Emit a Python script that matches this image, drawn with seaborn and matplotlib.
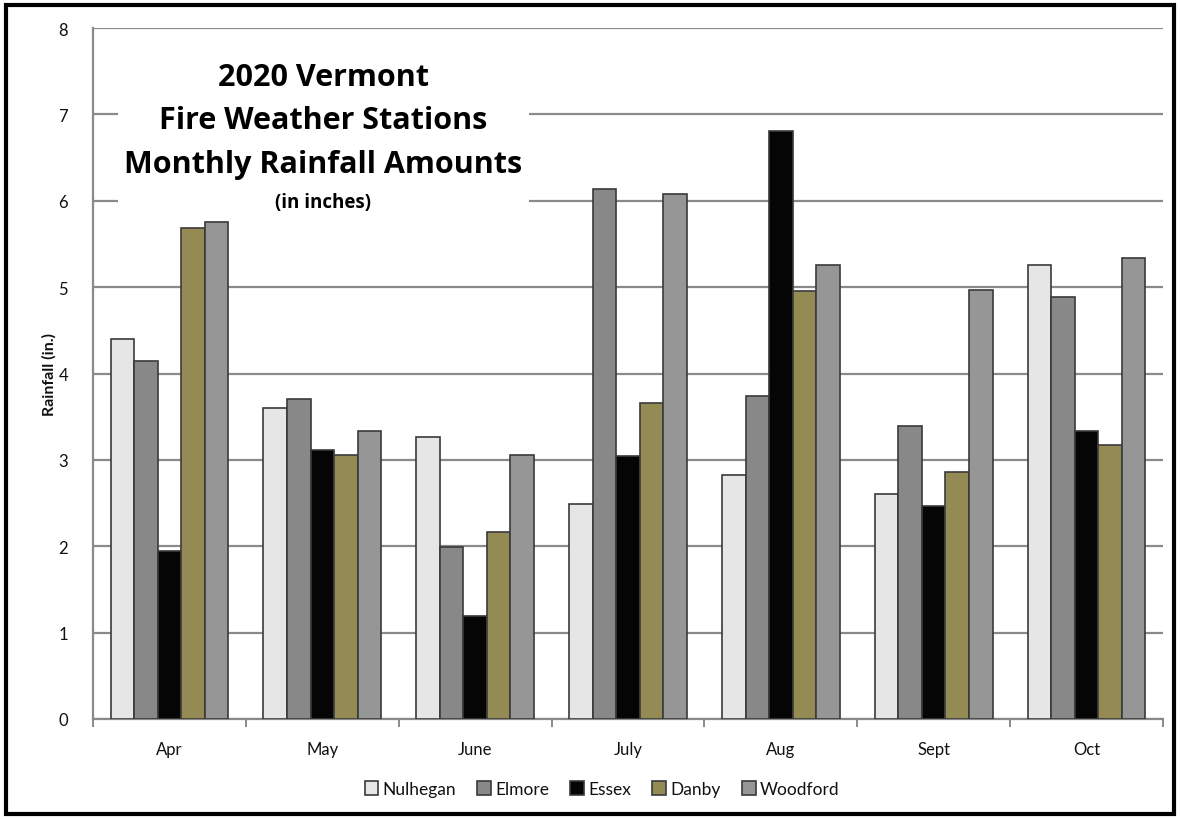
import matplotlib
matplotlib.use("Agg")
import matplotlib.pyplot as plt
from matplotlib.patches import Rectangle
import seaborn as sns
import pandas as pd

# months on the x axis
months = ["Apr", "May", "June", "July", "Aug", "Sept", "Oct"]

# monthly rainfall per station (inches)
nulhegan = [4.40, 3.60, 3.27, 2.49, 2.83, 2.60, 5.26]
elmore = [4.14, 3.70, 1.99, 6.14, 3.74, 3.39, 4.88]
essex = [1.95, 3.12, 1.19, 3.04, 6.81, 2.47, 3.34]
danby = [5.69, 3.06, 2.16, 3.66, 4.95, 2.86, 3.17]
woodford = [5.75, 3.33, 3.06, 6.08, 5.26, 4.97, 5.34]

stations = ["Nulhegan", "Elmore", "Essex", "Danby", "Woodford"]
colors = ["#e6e6e6", "#888888", "#050505", "#948a54", "#969696"]

rows = []
for name, vals in zip(stations, [nulhegan, elmore, essex, danby, woodford]):
    for m, v in zip(months, vals):
        rows.append({"Month": m, "Station": name, "Rainfall": v})
df = pd.DataFrame(rows)

sns.set_theme(style="white")
plt.rcParams["font.family"] = ["Lato", "DejaVu Sans"]
plt.rcParams["text.color"] = "#111111"

fig = plt.figure(figsize=(11.8, 8.2), dpi=100)
ax = fig.add_axes([93 / 1180, 1 - 720 / 820, 1070 / 1180, 691 / 820])

sns.barplot(data=df, x="Month", y="Rainfall", hue="Station", order=months,
            hue_order=stations, palette=colors, width=0.77, gap=0,
            edgecolor="#3a3a3a", linewidth=1.2, saturation=1, ax=ax, zorder=3)

ax.set_ylim(0, 8)
ax.set_xlim(-0.5, len(months) - 0.5)
ax.set_yticks(range(0, 9))
ax.yaxis.grid(True, color="#8a8a8a", linewidth=1.6, zorder=0)
ax.set_axisbelow(True)
for s in ["top", "right"]:
    ax.spines[s].set_visible(False)
for s in ["left", "bottom"]:
    ax.spines[s].set_color("#8a8a8a")
    ax.spines[s].set_linewidth(1.6)

# ticks between the month groups, like the original
ax.set_xticks(range(len(months)))
ax.set_xticklabels(months)
ax.set_xticks([i - 0.5 for i in range(len(months) + 1)], minor=True)
ax.tick_params(axis="x", which="major", length=0, pad=16, labelsize=12, colors="#111111")
ax.tick_params(axis="x", which="minor", length=6, width=1.4, color="#8a8a8a", direction="out")
ax.tick_params(axis="y", length=6, width=1.4, color="#8a8a8a", direction="out",
               labelsize=12, pad=12, labelcolor="#111111")
ax.tick_params(axis="x", bottom=True, which="both")
ax.set_xlabel("")
ax.set_ylabel("Rainfall (in.)", fontsize=11.5, fontweight="bold", labelpad=1,
              color="#111111")

ax.legend(loc="center", bbox_to_anchor=(602 / 1180, 1 - 790 / 820),
          bbox_transform=fig.transFigure, ncol=5, frameon=False,
          handlelength=0.8, handleheight=0.8, handletextpad=0.25,
          columnspacing=1.2, fontsize=12.5)

# white box behind the title that hides the grid lines
fig.patches.append(Rectangle((118 / 1180, 1 - 218 / 820), 411 / 1180, 180 / 820,
                             transform=fig.transFigure, facecolor="white",
                             edgecolor="none", zorder=2))
cx = 323 / 1180
title_font = ["Open Sans", "DejaVu Sans"]
fig.text(cx, 1 - 78 / 820, "2020 Vermont", ha="center", va="center",
         fontsize=22, fontweight="bold", color="black", family=title_font, zorder=3)
fig.text(cx, 1 - 121 / 820, "Fire Weather Stations", ha="center", va="center",
         fontsize=22, fontweight="bold", color="black", family=title_font, zorder=3)
fig.text(cx, 1 - 165 / 820, "Monthly Rainfall Amounts", ha="center", va="center",
         fontsize=22, fontweight="bold", color="black", family=title_font, zorder=3)
fig.text(cx, 1 - 203 / 820, "(in inches)", ha="center", va="center",
         fontsize=13.5, fontweight="bold", color="black", family=title_font, zorder=3)

# black frame round the whole picture
fig.patches.append(Rectangle((6 / 1180, 5 / 820), 1168 / 1180, 809 / 820,
                             transform=fig.transFigure, fill=False,
                             edgecolor="black", linewidth=3, zorder=5))

fig.savefig("out.png", dpi=100)
